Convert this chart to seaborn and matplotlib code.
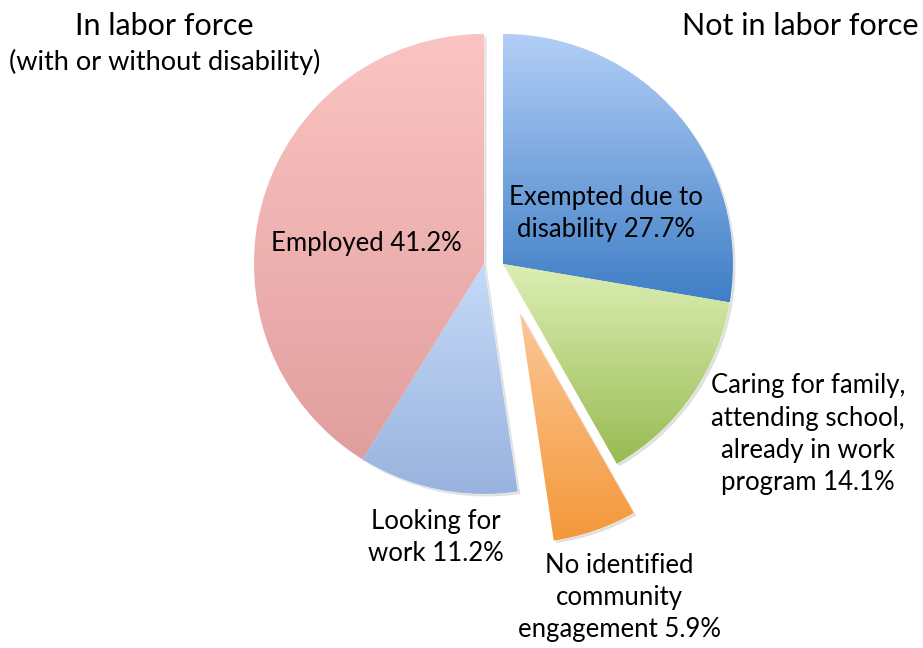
import numpy as np
import seaborn as sns
import matplotlib.pyplot as plt
import matplotlib.patheffects as pe
from matplotlib.colors import LinearSegmentedColormap

sns.set_theme(style='white')
plt.rcParams['font.family'] = ['Lato', 'DejaVu Sans']

# slices, clockwise from 12 o'clock
labels = ['Exempted due to\ndisability 27.7%',
          'Caring for family,\nattending school,\nalready in work\nprogram 14.1%',
          'No identified\ncommunity\nengagement 5.9%',
          'Looking for\nwork 11.2%',
          'Employed 41.2%']
shares = [27.7, 14.1, 5.9, 11.2, 41.2]
in_labor_force = [False, False, False, True, True]
explode = [0, 0, 0.226, 0, 0]

# gradient colours per slice (top, bottom)
grad_top = ['#b3cff7', '#dcefb4', '#fcc797', '#c6daf8', '#fbc4c2']
grad_bot = ['#3f7ec6', '#98bb52', '#f4983a', '#98b3de', '#e09f9f']

# label positions in pie-radius units
label_xy = [(0.53, 0.22), (1.41, -0.74), (0.59, -1.45), (-0.21, -1.19), (-0.51, 0.09)]

group_shift = 0.083

fig = plt.figure(figsize=(9.23, 6.48), dpi=100)
ax = fig.add_axes([0, 0, 1, 1])

wedges, _ = ax.pie(shares, startangle=90, counterclock=False, explode=explode,
                   radius=1.0,
                   wedgeprops=dict(linewidth=0.6, edgecolor='white'))

for w, lf, top, bot in zip(wedges, in_labor_force, grad_top, grad_bot):
    if not lf:
        cx, cy = w.center
        w.set_center((cx + group_shift, cy))
    w.set_facecolor(bot)
    w.set_path_effects([pe.SimplePatchShadow(offset=(1.8, -1.8), shadow_rgbFace='#999999', alpha=0.3),
                        pe.Normal()])
    bb = w.get_path().get_extents()
    cmap = LinearSegmentedColormap.from_list('g', [bot, top])
    grad = np.linspace(0, 1, 256).reshape(-1, 1)
    im = ax.imshow(grad, cmap=cmap, extent=[bb.x0, bb.x1, bb.y0, bb.y1],
                   origin='lower', aspect='auto', zorder=w.get_zorder() + 0.1,
                   interpolation='bilinear')
    im.set_clip_path(w)

for lab, (x, y) in zip(labels, label_xy):
    ax.text(x, y, lab, ha='center', va='center', fontsize=18.5, color='black',
            linespacing=1.36, zorder=10)

ax.text(-1.39, 1.035, 'In labor force', ha='center', va='center', fontsize=22, color='black')
ax.text(-1.39, 0.88, '(with or without disability)', ha='center', va='center', fontsize=19.5, color='black')
ax.text(1.89, 1.035, 'Not in labor force', ha='right', va='center', fontsize=22, color='black')

ax.set_aspect('equal')
ax.set_xlim(-2.104, 1.909)
ax.set_ylim(-1.670, 1.148)
ax.axis('off')

fig.savefig('out.png', dpi=100, facecolor='white')
